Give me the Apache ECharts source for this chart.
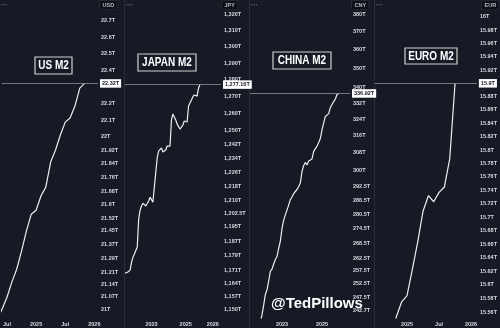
<!DOCTYPE html>
<html><head><meta charset="utf-8">
<script src="https://cdn.jsdelivr.net/npm/echarts@6/dist/echarts.min.js"></script>
<style>html,body{margin:0;padding:0;background:#161a25;}#c{width:500px;height:328px;}</style>
</head><body><div id="c"></div>
<script>
// ---------- DATA ----------
// US M2 (USD, trillions), monthly
const usMonths = ['2024-05','2024-06','2024-07','2024-08','2024-09','2024-10','2024-11','2024-12','2025-01','2025-02','2025-03','2025-04','2025-05','2025-06','2025-07','2025-08','2025-09','2025-10','2025-11'];
const usValues = [20.94,21.00,21.067,21.153,21.227,21.331,21.447,21.545,21.568,21.651,21.703,21.851,21.922,22.011,22.088,22.112,22.184,22.292,22.32];
const usYTicks = [22.7,22.6,22.5,22.4,22.2,22.1,22,21.92,21.84,21.76,21.68,21.6,21.52,21.45,21.37,21.29,21.21,21.14,21.07,21];
const usXTickMonths = ['2024-07','2025-01','2025-07','2026-01'];
const usXTickText = ['Jul','2025','Jul','2026'];

// Japan M2 (JPY, trillions), monthly
const jpMonths = ['2021-04','2021-05','2021-06','2021-07','2021-08','2021-09','2021-10','2021-11','2021-12',
 '2022-01','2022-02','2022-03','2022-04','2022-05','2022-06','2022-07','2022-08','2022-09','2022-10','2022-11','2022-12',
 '2023-01','2023-02','2023-03','2023-04','2023-05','2023-06','2023-07','2023-08','2023-09','2023-10','2023-11','2023-12',
 '2024-01','2024-02','2024-03','2024-04','2024-05','2024-06','2024-07','2024-08','2024-09','2024-10','2024-11','2024-12',
 '2025-01','2025-02','2025-03','2025-04','2025-05','2025-06','2025-07','2025-08','2025-09','2025-10','2025-11'];
const jpValues = [1168.6,1169.0,1169.4,1169.5,1169.8,1170.0,1171.1,1175.5,1178.2,
 1179.9,1179.3,1183.8,1199.4,1204.4,1206.7,1208.3,1207.2,1206.7,1206.7,1209.5,1211.7,
 1210.6,1208.9,1217.5,1226.0,1234.1,1238.1,1238.7,1239.9,1237.5,1236.4,1238.7,1241.0,
 1241.6,1241.0,1256.2,1259.7,1258.0,1256.2,1253.8,1252.7,1250.9,1250.9,1253.2,1255.6,
 1255.0,1255.0,1264.4,1266.2,1268.0,1269.8,1271.0,1270.3,1270.3,1275.1,1277.16];
const jpYTicks = [1320,1310,1300,1290,1280,1270,1260,1250,1242,1234,1226,1218,1210,1202.5,1195,1187,1179,1171,1164,1157,1150];
const jpXTickMonths = ['2023-01','2025-01','2026-08'];
const jpXTickText = ['2023','2025','2026'];

// China M2 (CNY, trillions), monthly
const cnMonths = ['2021-12',
 '2022-01','2022-02','2022-03','2022-04','2022-05','2022-06','2022-07','2022-08','2022-09','2022-10','2022-11','2022-12',
 '2023-01','2023-02','2023-03','2023-04','2023-05','2023-06','2023-07','2023-08','2023-09','2023-10','2023-11','2023-12',
 '2024-01','2024-02','2024-03','2024-04','2024-05','2024-06','2024-07','2024-08','2024-09','2024-10','2024-11','2024-12',
 '2025-01','2025-02','2025-03','2025-04','2025-05','2025-06','2025-07','2025-08','2025-09','2025-10','2025-11'];
const cnValues = [238.3,
 240.9,244.5,248.5,250.2,253.6,257.3,258.2,260.2,262.0,263.2,266.4,269.4,
 274.6,278.1,280.3,280.9,284.5,286.9,288.0,289.5,289.3,291.3,292.6,294.2,
 299.4,302.1,303.5,302.3,304.2,303.5,305.1,308.6,309.5,311.1,312.8,314.7,
 318.8,322.2,325.4,326.1,326.8,329.8,331.3,332.8,334.1,336.4,336.92];
const cnYTicks = [380,370,360,350,340,332,324,316,308,300,292.5,286.5,280.5,274.5,268.5,262.5,257.5,252.5,247.5,242.7];
const cnXTickMonths = ['2023-01','2025-01'];
const cnXTickText = ['2023','2025'];

// Euro M2 (EUR, trillions), monthly
const euMonths = ['2024-10','2024-11','2024-12','2025-01','2025-02','2025-03','2025-04','2025-05','2025-06','2025-07','2025-08','2025-09','2025-10'];
const euValues = [15.52,15.553,15.575,15.584,15.623,15.663,15.709,15.732,15.723,15.737,15.745,15.787,15.90];
const euYTicks = [16,15.98,15.96,15.94,15.92,15.88,15.86,15.84,15.82,15.8,15.78,15.76,15.74,15.72,15.7,15.68,15.66,15.64,15.62,15.6,15.58,15.56];
const euXTickMonths = ['2025-01','2025-07','2026-01'];
const euXTickText = ['2025','Jul','2026'];

const titles = ['US M2','JAPAN M2','CHINA M2','EURO M2'];
const currencies = ['USD','JPY','CNY','EUR'];
const watermark = '@TedPillows';

// ---------- LAYOUT / STYLE ----------
function mi(s){const p=s.split('-').map(Number);return (p[0]-2020)*12+(p[1]-1);}
const panels = [
  {months:usMonths, values:usValues, yTicks:usYTicks, xm:usXTickMonths, xt:usXTickText,
   left:0, width:98, xmin:52.915, xmax:72.753, ymin:20.949, ymax:22.829,
   title:{cx:53.5, cy:65.5, w:37, h:17}, cur:{x:100, w:14}},
  {months:jpMonths, values:jpValues, yTicks:jpYTicks, xm:jpXTickMonths, xt:jpXTickText,
   left:125, width:96, xmin:17.40, xmax:84.77, ymin:1145.17, ymax:1328.67,
   title:{cx:167, cy:62.5, w:58, h:17}, cur:{x:222, w:15}},
  {months:cnMonths, values:cnValues, yTicks:cnYTicks, xm:cnXTickMonths, xt:cnXTickText,
   left:250, width:100, xmin:16.80, xmax:76.79, ymin:239.78, ymax:388.15,
   title:{cx:302, cy:60.5, w:58, h:17}, cur:{x:352, w:15}},
  {months:euMonths, values:euValues, yTicks:euYTicks, xm:euXTickMonths, xt:euXTickText,
   left:375, width:105, xmin:54, xmax:73.09, ymin:15.5512, ymax:16.0257,
   title:{cx:431, cy:56, w:52, h:16}, cur:{x:482, w:15}}
];
const BG = '#161a25';
const TXT = '#d6d9e0';
const FONT = 'Liberation Sans, Arial, sans-serif';
const PLOT_H = 318;

function fmtVal(v){return Number(v).toLocaleString('en-US',{maximumFractionDigits:2})+'T';}

const grid=[], xAxis=[], yAxis=[], series=[], graphic=[];
panels.forEach((p,i)=>{
  grid.push({left:p.left, top:0, width:p.width, height:PLOT_H});
  const xmap = {}; p.xm.forEach((m,k)=>{xmap[mi(m)] = p.xt[k];});
  xAxis.push({type:'value', gridIndex:i, min:p.xmin, max:p.xmax,
    axisLine:{show:false}, axisTick:{show:false}, splitLine:{show:false},
    axisLabel:{customValues:p.xm.map(mi), formatter:v=>xmap[Math.round(v)]||'', color:TXT, fontSize:5.5, fontWeight:'bold', fontFamily:FONT, margin:3}});
  yAxis.push({type:'log', logBase:10, gridIndex:i, position:'right', min:p.ymin, max:p.ymax,
    axisLine:{show:false}, axisTick:{show:false}, splitLine:{show:false},
    axisLabel:{customValues:p.yTicks, formatter:fmtVal, color:TXT, fontSize:5.5, fontWeight:'bold', fontFamily:FONT, margin:3}});
  const last = p.values[p.values.length-1];
  yAxis.push({type:'log', logBase:10, gridIndex:i, position:'right', min:p.ymin, max:p.ymax, z:10,
    axisLine:{show:false}, axisTick:{show:false}, splitLine:{show:false},
    axisLabel:{customValues:[last], formatter:fmtVal, color:'#131722', backgroundColor:'#ffffff', padding:[1.5,2,1,2], fontSize:5.5, fontWeight:'bold', fontFamily:FONT, margin:2}});
  series.push({type:'line', xAxisIndex:i, yAxisIndex:2*i, showSymbol:false, symbol:'none',
    lineStyle:{color:'#eeeeee', width:1.2}, clip:true,
    data:p.months.map((m,k)=>[mi(m), p.values[k]]),
    markLine:{silent:true, symbol:['none','none'], label:{show:false},
      lineStyle:{color:'#8c8f98', width:0.8, type:'solid'}, data:[{yAxis:last}]}});
  // title box
  graphic.push({type:'rect', shape:{x:p.title.cx-p.title.w/2, y:p.title.cy-p.title.h/2, width:p.title.w, height:p.title.h},
    style:{fill:BG, stroke:'#d0d0d0', lineWidth:1.2}, z:20});
  graphic.push({type:'text', x:p.title.cx, y:p.title.cy+0.5, scaleX:0.8, z:21,
    style:{text:titles[i], fill:'#ffffff', font:'bold 12.5px '+FONT, textAlign:'center', textVerticalAlign:'middle'}});
  // currency tag
  graphic.push({type:'text', x:p.cur.x, y:1, z:20,
    style:{text:currencies[i], fill:'#b8bbc4', font:'bold 5.5px '+FONT, backgroundColor:'#0d1017', borderColor:'#2e323d', borderWidth:0.6, padding:[1.5,2.5,1,2.5]}});
  // menu dots
  graphic.push({type:'text', x:p.left+1, y:2, z:20,
    style:{text:'···', fill:'#6c6f7a', font:'bold 7px '+FONT}});
  if(i>0) graphic.push({type:'line', shape:{x1:p.left-0.5, y1:0, x2:p.left-0.5, y2:328}, style:{stroke:'#2a2e39', lineWidth:1}, z:5});
});
graphic.push({type:'text', x:271, y:303.5, z:30,
  style:{text:watermark, fill:'#ffffff', font:'bold 15px '+FONT, textVerticalAlign:'middle',
    shadowColor:'rgba(0,0,0,0.7)', shadowBlur:2, shadowOffsetX:0.5, shadowOffsetY:0.5}});

const chart = echarts.init(document.getElementById('c'), null, {renderer:'canvas'});
chart.setOption({backgroundColor:BG, animation:false, grid, xAxis, yAxis, series, graphic});
</script></body></html>
